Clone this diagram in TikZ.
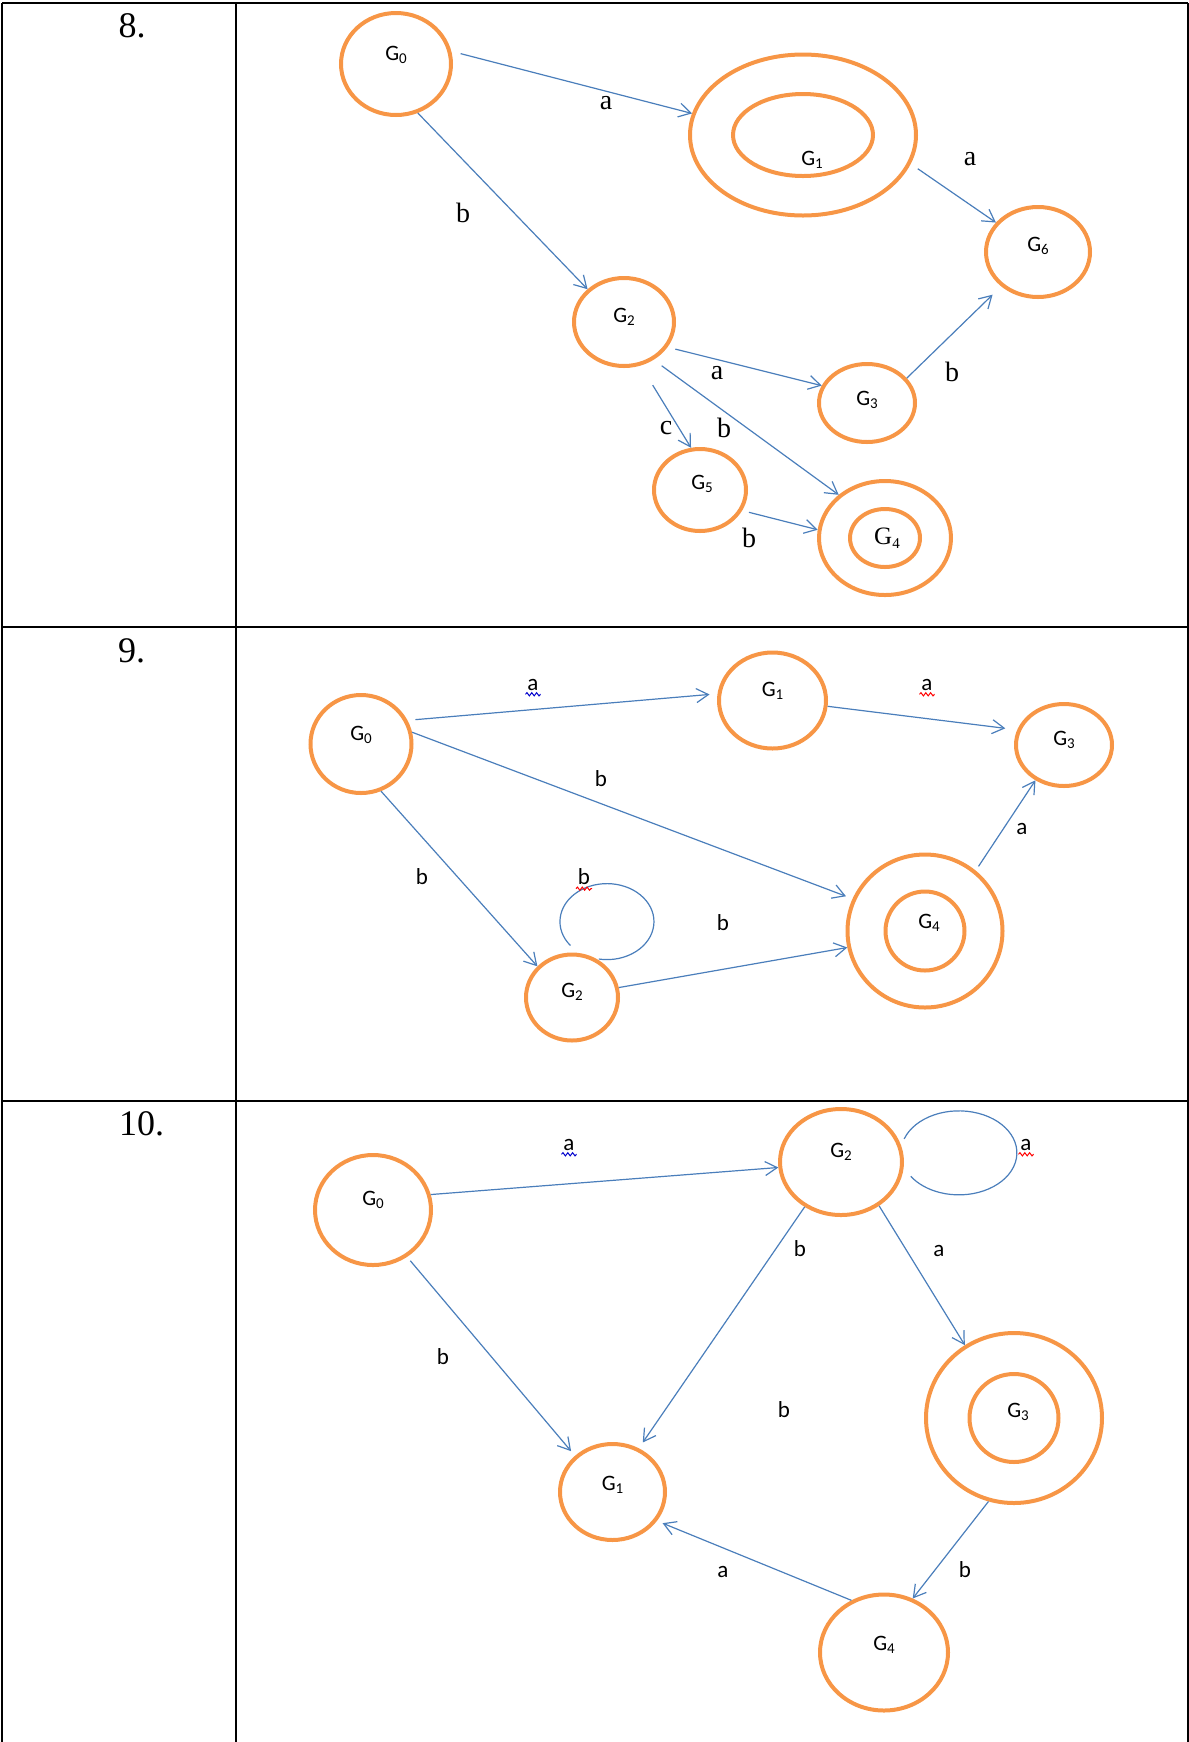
\documentclass[tikz,border=0pt]{standalone}
\usepackage{fontspec}
\usepackage{tikz}
\usepackage{xcolor}
\setmainfont{Liberation Serif}
\newfontfamily\calib{Carlito}
\usetikzlibrary{arrows.meta,shapes.geometric,decorations.pathmorphing}
\definecolor{stateorange}{HTML}{F79646}
\definecolor{edgeblue}{HTML}{4A7EBB}
\newcommand{\gs}[1]{G\raisebox{-0.3ex}{\fontsize{7.5}{8}\selectfont #1}}

\begin{document}
\begin{tikzpicture}[x=0.5pt,y=-0.5pt,
    st/.style={ellipse,draw=stateorange,line width=2pt,inner sep=0pt},
    tr/.style={draw=edgeblue,line width=0.6pt,-{Straight Barb[length=6pt,width=7pt]}},
    lp/.style={draw=edgeblue,line width=0.6pt},
    gt/.style={font=\calib\fontsize{11}{13}\selectfont,inner sep=0pt},
    g8/.style={font=\fontsize{12.5}{14}\selectfont,inner sep=0pt},
    el/.style={font=\calib\fontsize{11.5}{13}\selectfont,inner sep=0pt},
    el8/.style={font=\fontsize{14}{16}\selectfont,inner sep=0pt},
    num/.style={font=\fontsize{18}{21}\selectfont,inner sep=0pt},
    wavy/.style={decorate,decoration={snake,amplitude=0.8pt,segment length=2.4pt},line width=0.5pt}]
\useasboundingbox (0,0) rectangle (1189,1742);

% table
\draw[line width=1.3pt] (2,3) -- (1187.5,3);
\draw[line width=1pt] (2,3) -- (2,1742) (235.5,3) -- (235.5,1742) (1187.5,3) -- (1187.5,1742);
\draw[line width=0.9pt] (2,627) -- (1187.5,627) (2,1101) -- (1187.5,1101);
\node[num] (n8) at (132,25.5) {8.};
\node[num] (n9) at (131.7,651) {9.};
\node[num] (n10) at (141.7,1123.3) {10.};

% 8.
      \node[st,minimum width=55pt,minimum height=51pt,label={[gt,yshift=4.5pt]center:\gs{0}}] (a0) at (396,64) {};
      \node[st,minimum width=113pt,minimum height=80.5pt] (a1) at (803,135) {};
      \node[st,minimum width=70pt,minimum height=41pt,label={[gt,xshift=4.5pt,yshift=-12.5pt]center:\gs{1}}] (a1i) at (803,135) {};
      \node[st,minimum width=52pt,minimum height=45pt,label={[gt,yshift=3pt]center:\gs{6}}] (a6) at (1038,252) {};
      \node[st,minimum width=50pt,minimum height=44pt,label={[gt,yshift=2.5pt]center:\gs{2}}] (a2) at (624,322) {};
      \node[st,minimum width=48pt,minimum height=39pt,label={[gt,yshift=1.5pt]center:\gs{3}}] (a3) at (867,403) {};
      \node[st,minimum width=46pt,minimum height=41pt,label={[gt,xshift=1pt,yshift=3pt]center:\gs{5}}] (a5) at (700,490) {};
      \node[st,minimum width=66pt,minimum height=57pt] (a4) at (885,538) {};
      \node[st,minimum width=35pt,minimum height=29pt,label={[g8,xshift=1pt]center:\gs{4}}] (a4i) at (885,538) {};

\draw[tr,shorten <=4.8pt] (a0.13) -- (a1.169);  % G0 to G1
      \draw[tr,shorten <=4.3pt] (a1.345) -- (a6.145);  % G1 to G6
      \draw[tr] (a0.294) -- (a2.138);  % G0 to G2
      \draw[tr,shorten <=4pt] (a2.330) -- (a3.159);  % G2 to G3
      \draw[tr,shorten >=6pt] (a3.32) -- (a6.223);  % G3 to G6
      \draw[tr,shorten <=11.5pt] (a2.291) -- (a5.102);  % G2 to G5
      \draw[tr,shorten <=5pt] (a2.308) -- (a4.137);  % G2 to G4
      \draw[tr,shorten <=3.5pt] (a5.334) -- (a4.173);  % G5 to G4

      \node[el8] (la1) at (606,103) {a};
      \node[el8] (la2) at (970,159) {a};
      \node[el8] (la3) at (463,213) {b};
      \node[el8] (la4) at (717,373) {a};
      \node[el8] (la5) at (952,372) {b};
      \node[el8] (la6) at (666,428) {c};
      \node[el8] (la7) at (724,428) {b};
      \node[el8] (la8) at (749,538) {b};

% 9.
      \node[st,minimum width=50.5pt,minimum height=49pt,label={[gt,yshift=4.5pt]center:\gs{0}}] (b0) at (361,744) {};
      \node[st,minimum width=53.5pt,minimum height=48pt,label={[gt,yshift=5pt]center:\gs{1}}] (b1) at (772.5,700.5) {};
      \node[st,minimum width=48pt,minimum height=41pt,label={[gt,yshift=2.5pt]center:\gs{3}}] (b3) at (1064,745) {};
      \node[st,minimum width=77.5pt,minimum height=76.5pt] (b4) at (925,931) {};
      \node[st,minimum width=39.5pt,minimum height=39.5pt,label={[gt,xshift=2pt,yshift=4pt]center:\gs{4}}] (b4i) at (925,931) {};
      \node[st,minimum width=46pt,minimum height=43pt,label={[gt,yshift=3pt]center:\gs{2}}] (b2) at (572,997.5) {};

\draw[tr,shorten <=4pt,shorten >=4pt] (b0.27) -- (b1.173);  % G0 to G1
      \draw[tr,shorten >=6pt] (b1.354) -- (b3.162);  % G1 to G3
      \draw[tr,shorten >=3.5pt] (b0.13) -- (b4.156);  % G0 to G4
      \draw[tr,shorten <=2.5pt] (b4.50) -- (b3.231);  % G4 to G3
      \draw[tr] (b0.293) -- (b2.138);  % G0 to G2
      \draw[tr] (b2.12) -- (b4.192);  % G2 to G4
      \draw[lp] ([yshift=3.5pt]b2.92) arc[start angle=219,end angle=-100,x radius=23.5pt,y radius=19pt];  % loop on G2

      \node[el] (lb1) at (533,685) {a};
      \node[el] (lb2) at (927,685) {a};
      \node[el] (lb3) at (601,779) {b};
      \node[el] (lb4) at (1022,829) {a};
      \node[el] (lb5) at (422,877) {b};
      \node[el] (lb6) at (584,877) {b};
      \node[el] (lb7) at (723,923) {b};
      \draw[wavy,blue!80!black] ([xshift=-0.8pt,yshift=-1.6pt]lb1.south west) -- ([xshift=0.8pt,yshift=-1.6pt]lb1.south east);
      \draw[wavy,red] ([xshift=-0.8pt,yshift=-1.6pt]lb2.south west) -- ([xshift=0.8pt,yshift=-1.6pt]lb2.south east);
      \draw[wavy,red] ([xshift=-0.8pt,yshift=-1.6pt]lb6.south west) -- ([xshift=0.8pt,yshift=-1.6pt]lb6.south east);

% 10.
      \node[st,minimum width=58pt,minimum height=55pt,label={[gt,yshift=5pt]center:\gs{0}}] (c0) at (373,1210) {};
      \node[st,minimum width=61pt,minimum height=53pt,label={[gt,yshift=5pt]center:\gs{2}}] (c2) at (841,1162) {};
      \node[st,minimum width=88pt,minimum height=85pt] (c3) at (1014,1418) {};
      \node[st,minimum width=44.5pt,minimum height=44pt,label={[gt,xshift=2pt,yshift=3pt]center:\gs{3}}] (c3i) at (1014,1418) {};
      \node[st,minimum width=52.5pt,minimum height=48pt,label={[gt,yshift=3.5pt]center:\gs{1}}] (c1) at (612.5,1492) {};
      \node[st,minimum width=64pt,minimum height=58pt,label={[gt,yshift=4pt]center:\gs{4}}] (c4) at (884,1652.5) {};

\draw[tr] (c0.15) -- (c2.185);  % G0 to G2
      \draw[lp] ([xshift=3pt]c2.22) arc[start angle=160.6,end angle=-146,x radius=29pt,y radius=21pt];  % loop on G2
      \draw[tr] (c2.311) -- (c3.124);  % G2 to G3
      \draw[tr,shorten >=3.5pt] (c2.231) -- (c1.59);  % G2 to G1
      \draw[tr,shorten <=2.5pt,shorten >=3pt] (c0.306) -- (c1.136);  % G0 to G1
      \draw[tr] (c3.253) -- (c4.62);  % G3 to G4
      \draw[tr,shorten >=3pt] (c4.122) -- (c1.327);  % G4 to G1

      \node[el] (lc1) at (569,1145) {a};
      \node[el] (lc2) at (1026,1145) {a};
      \node[el] (lc3) at (939,1251) {a};
      \node[el] (lc4) at (800,1249) {b};
      \node[el] (lc5) at (784,1410) {b};
      \node[el] (lc6) at (443,1357) {b};
      \node[el] (lc7) at (965,1570) {b};
      \node[el] (lc8) at (723,1572) {a};
      \draw[wavy,blue!80!black] ([xshift=-0.8pt,yshift=-1.6pt]lc1.south west) -- ([xshift=0.8pt,yshift=-1.6pt]lc1.south east);
      \draw[wavy,red] ([xshift=-0.8pt,yshift=-1.6pt]lc2.south west) -- ([xshift=0.8pt,yshift=-1.6pt]lc2.south east);
\end{tikzpicture}
\end{document}
